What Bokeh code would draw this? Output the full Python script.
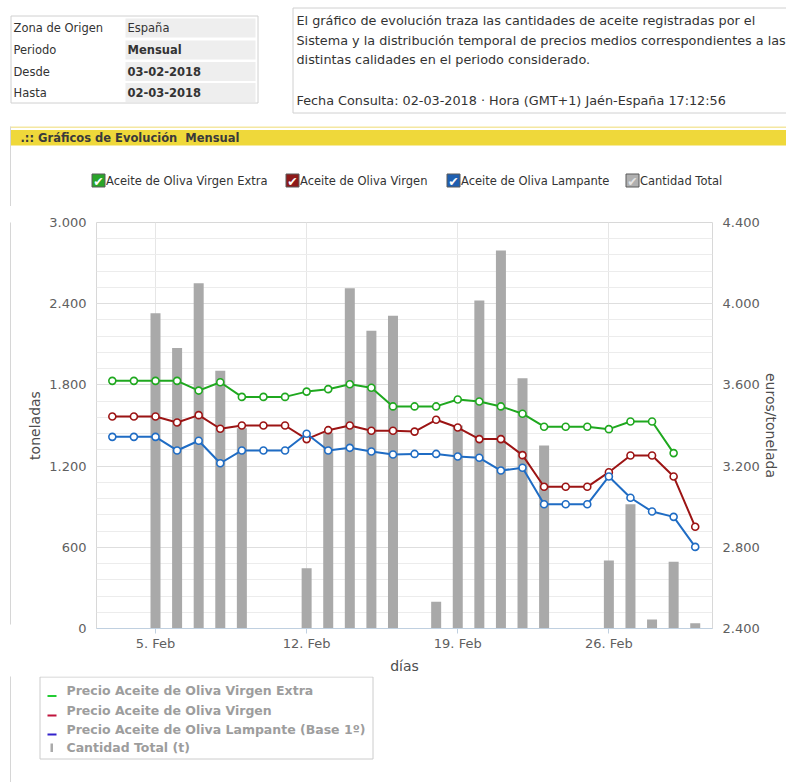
import numpy as np
import pandas as pd
from bokeh.plotting import figure
from bokeh.models import Range1d, LinearAxis, FixedTicker, ColumnDataSource
from bokeh.layouts import column, row
from bokeh.core.properties import value
from bokeh.embed import file_html
from bokeh.resources import INLINE

# ---------------- data ----------------
fechas = pd.date_range("2018-02-03", "2018-03-02", freq="D")
cantidad_total = [0, 0, 2330, 2072, 2552, 1904, 1480, 0, 0, 446, 1446, 2515, 2200, 2311,
                  0, 197, 1500, 2424, 2794, 1850, 1352, 0, 0, 503, 919, 67, 493, 39]
precio_virgen_extra = [3620, 3620, 3620, 3620, 3572, 3613, 3541, 3541, 3541, 3567, 3579, 3603, 3586, 3494,
                       3494, 3494, 3528, 3518, 3494, 3458, 3394, 3394, 3394, 3382, 3420, 3420, 3264, np.nan]
precio_virgen = [3444, 3444, 3444, 3415, 3451, 3384, 3400, 3400, 3400, 3333, 3377, 3400, 3374, 3374,
                 3370, 3428, 3390, 3333, 3333, 3254, 3098, 3098, 3098, 3170, 3252, 3252, 3149, 2901]
precio_lampante = [3344, 3344, 3344, 3277, 3325, 3214, 3277, 3277, 3277, 3359, 3277, 3290, 3272, 3257,
                   3260, 3260, 3247, 3241, 3178, 3192, 3012, 3012, 3012, 3149, 3044, 2976, 2950, 2802]

ticks_semana = ["2018-02-05", "2018-02-12", "2018-02-19", "2018-02-26"]
etiquetas_semana = ["5. Feb", "12. Feb", "19. Feb", "26. Feb"]
ticks_toneladas = [0, 600, 1200, 1800, 2400, 3000]
ticks_euros = [2400, 2800, 3200, 3600, 4000, 4400]

series_nombres = ["Aceite de Oliva Virgen Extra", "Aceite de Oliva Virgen",
                  "Aceite de Oliva Lampante", "Cantidad Total"]
leyenda_nombres = ["Precio Aceite de Oliva Virgen Extra", "Precio Aceite de Oliva Virgen",
                   "Precio Aceite de Oliva Lampante (Base 1º)", "Cantidad Total (t)"]
info_etiquetas = ["Zona de Origen", "Periodo", "Desde", "Hasta"]
info_valores = ["España", "Mensual", "03-02-2018", "02-03-2018"]
descripcion = ["El gráfico de evolución traza las cantidades de aceite registradas por el",
               "Sistema y la distribución temporal de precios medios correspondientes a las",
               "distintas calidades en el periodo considerado.",
               "Fecha Consulta: 02-03-2018 · Hora (GMT+1) Jaén-España 17:12:56"]

# ---------------- styles ----------------
C_EXTRA, C_VIRGEN, C_LAMP, C_BAR = "#1fa81f", "#9c1414", "#1f6cc4", "#a9a9a9"
FONT = "DejaVu Sans"
BORDER = "#d6d6d6"
W = 786
TOP_H = 206          # header height
MID_H = 466          # chart section height (206..672)
BOT_H = 108          # footer (672..780)


def deco_fig(w, h):
    f = figure(width=w, height=h, output_backend="svg", toolbar_location=None, title=None,
               x_range=Range1d(0, w), y_range=Range1d(h, 0),
               x_axis_location=None, y_axis_location=None, min_border=0)
    f.grid.visible = False
    f.outline_line_color = None
    f.background_fill_color = "white"
    f.border_fill_color = "white"
    return f


def rect(f, x0, y0, x1, y1, fill=None, line=None):
    f.quad(left=[x0], right=[x1], top=[y0], bottom=[y1],
           fill_color=fill, fill_alpha=1 if fill else 0,
           line_color=line, line_alpha=1 if line else 0, line_width=1)


def htxt(f, x, y, s, size="11.5px", color="#333333", bold=False, align="left"):
    f.text(x=[x], y=[y], text=[s], text_font=value(FONT), text_font_size=value(size),
           text_color=color, text_font_style="bold" if bold else "normal",
           text_align=align, text_baseline="middle")


# ---------------- header ----------------
hd = deco_fig(W, TOP_H)
rect(hd, 10.5, 15.5, 257.5, 102.5, fill="white", line="#d0d0d0")
for i, (lbl, val) in enumerate(zip(info_etiquetas, info_valores)):
    yc = [27.5, 49.5, 71, 92][i]
    rect(hd, 125, yc - 9.5, 255, yc + 9.5, fill="#eeeeee")
    htxt(hd, 13, yc, lbl)
    htxt(hd, 127, yc, val, bold=(i > 0))

rect(hd, 292.5, 7.5, 800, 112.5, fill="white", line="#d0d0d0")
for s, yc in zip(descripcion, [19.5, 39.5, 59, 100]):
    htxt(hd, 296, yc, s, size="12.8px")

rect(hd, 10, 126, 800, 127.5, fill="#f4e7a2")
rect(hd, 10, 129.5, 800, 145, fill="#efd83a")
rect(hd, 9.5, 126, 10.5, TOP_H + 1, fill=BORDER)
htxt(hd, 20, 137.5, ".:: Gráficos de Evolución\u00a0 Mensual", bold=True, color="#3a3a3a")

checks = [(91, "#2aa52a", "white"), (285, "#8e1a1a", "white"), (446, "#1f5fb0", "white"),
          (625, "#b0b0b0", "#e6e6e6")]
for (cx, fc, ck), name in zip(checks, series_nombres):
    rect(hd, cx + 0.5, 173.5, cx + 13.5, 186.5, fill=fc, line="#5a5a5a")
    htxt(hd, cx + 7, 180.5, "✔", size="12.5px", color=ck, align="center")
    htxt(hd, cx + 14.5, 180.5, name)

# ---------------- left strip (panel border) ----------------
STRIP_W = 14
st = deco_fig(STRIP_W, MID_H)
rect(st, 9.5, -1, 10.5, MID_H + 1, fill=BORDER)

# ---------------- chart ----------------
src = ColumnDataSource(dict(fecha=fechas, cantidad=cantidad_total, extra=precio_virgen_extra,
                            virgen=precio_virgen, lampante=precio_lampante))
ms_day = 86400000
FRAME_L, FRAME_R, FRAME_T, FRAME_B = 96, 712, 222, 628
p = figure(frame_width=FRAME_R - FRAME_L, frame_height=FRAME_B - FRAME_T,
           output_backend="svg", toolbar_location=None, title=None,
           x_axis_type="datetime",
           x_range=Range1d(pd.Timestamp("2018-02-02 06:24"), pd.Timestamp("2018-03-02 19:12")),
           y_range=Range1d(0, 3000),
           min_border_left=FRAME_L - STRIP_W, min_border_right=W - FRAME_R,
           min_border_top=FRAME_T - TOP_H, min_border_bottom=TOP_H + MID_H - FRAME_B)
p.background_fill_color = "white"
p.border_fill_color = "white"
p.outline_line_color = "#d8d8d8"

p.ygrid.ticker = FixedTicker(ticks=ticks_toneladas, minor_ticks=list(range(0, 3001, 120)))
p.ygrid.grid_line_color = "#dedede"
p.ygrid.minor_grid_line_color = "#ececec"
week_ms = [pd.Timestamp(t).value // 10**6 for t in ticks_semana]
p.xgrid.ticker = FixedTicker(ticks=week_ms)
p.xgrid.grid_line_color = "#e6e6e6"

ly = p.left[0]
ly.ticker = FixedTicker(ticks=ticks_toneladas)
ly.major_label_overrides = {t: f"{t:,}".replace(",", ".") for t in ticks_toneladas}
ly.axis_label = "toneladas"

xa = p.below[0]
xa.ticker = FixedTicker(ticks=week_ms)
xa.major_label_overrides = {float(t): s for t, s in zip(week_ms, etiquetas_semana)}
xa.axis_label = "días"

p.extra_y_ranges = {"euros": Range1d(2400, 4400)}
ry = LinearAxis(y_range_name="euros", ticker=FixedTicker(ticks=ticks_euros), axis_label="euros/tonelada")
ry.major_label_overrides = {t: f"{t:,}".replace(",", ".") for t in ticks_euros}
p.add_layout(ry, "right")

for ax in (ly, ry, xa):
    ax.major_label_text_font = FONT
    ax.major_label_text_font_size = "13px"
    ax.major_label_text_color = "#606060"
    ax.axis_label_text_font = FONT
    ax.axis_label_text_font_size = "14px"
    ax.axis_label_text_font_style = "normal"
    ax.axis_label_text_color = "#4d4d4d"
    ax.minor_tick_line_color = None
for ax in (ly, ry):
    ax.axis_line_color = None
    ax.major_tick_line_color = None
    ax.major_label_standoff = 4
ly.axis_label_standoff = 3
ry.axis_label_standoff = 0
xa.axis_line_color = "#C0D0E0"
xa.major_tick_line_color = "#C0D0E0"
xa.major_tick_in = 0
xa.major_tick_out = 5
xa.major_label_standoff = 2
xa.axis_label_standoff = 4

p.vbar(x="fecha", top="cantidad", width=0.463 * ms_day, source=src, fill_color=C_BAR, line_color=None)
for col, c in (("extra", C_EXTRA), ("virgen", C_VIRGEN), ("lampante", C_LAMP)):
    p.line("fecha", col, source=src, line_color=c, line_width=2, y_range_name="euros")
    p.scatter("fecha", col, source=src, marker="circle", size=7, fill_color="white",
              line_color=c, line_width=1.6, y_range_name="euros")

# ---------------- footer legend ----------------
ft = deco_fig(W, BOT_H)
Y0 = TOP_H + MID_H
rect(ft, 9.5, -1, 10.5, BOT_H + 1, fill=BORDER)
rect(ft, 39.5, 672.5 - Y0, 372.5, 754.5 - Y0, fill="white", line="#cccccc")
leg_cols = ["#22cc33", "#c0143c", "#3322cc"]
leg_y = [686, 705.5, 724.5, 743]
for yc, c in zip(leg_y[:3], leg_cols):
    rect(ft, 47, yc + 4.5 - Y0, 56, yc + 6.5 - Y0, fill=c)
rect(ft, 50, 739 - Y0, 52.5, 747.5 - Y0, fill="#aaaaaa")
for yc, name in zip(leg_y, leyenda_nombres):
    htxt(ft, 66, yc - Y0, name, size="12.5px", color="#9d9d9d", bold=True)

layout = column(hd, row(st, p), ft)
open("out.html", "w").write(file_html(layout, INLINE))
